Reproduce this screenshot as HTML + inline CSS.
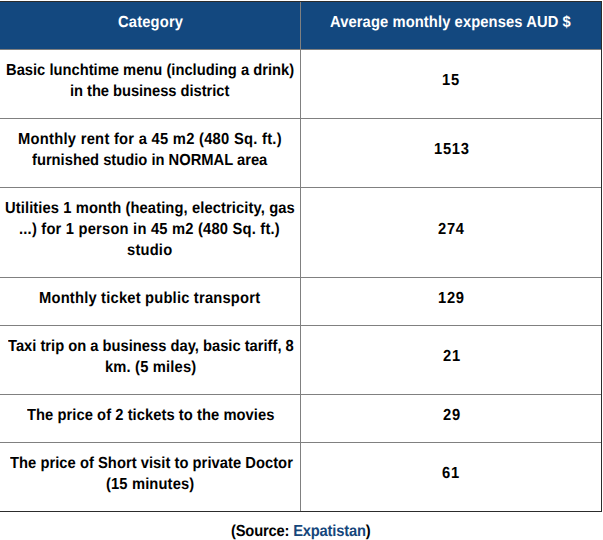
<!DOCTYPE html>
<html><head><meta charset="utf-8"><style>
html,body{margin:0;padding:0;background:#fff;width:603px;height:540px;overflow:hidden;position:relative}
.h{position:absolute}
.t{position:absolute;white-space:nowrap;font-family:"Liberation Sans",sans-serif;font-weight:bold;line-height:20px;transform:scale(0.92,1.0);transform-origin:0 15.2px;text-rendering:geometricPrecision;}
</style></head><body>
<div class="h" style="left:0;top:1px;width:602px;height:1px;background:#2c2c2c"></div>
<div class="h" style="left:0;top:2px;width:601px;height:47px;background:#13487f"></div>
<div class="h" style="left:0;top:49px;width:601px;height:1px;background:#808080"></div>
<div class="h" style="left:0;top:118px;width:601px;height:1px;background:#808080"></div>
<div class="h" style="left:0;top:187px;width:601px;height:1px;background:#808080"></div>
<div class="h" style="left:0;top:277px;width:601px;height:1px;background:#808080"></div>
<div class="h" style="left:0;top:325px;width:601px;height:1px;background:#808080"></div>
<div class="h" style="left:0;top:394px;width:601px;height:1px;background:#808080"></div>
<div class="h" style="left:0;top:442px;width:601px;height:1px;background:#808080"></div>
<div class="h" style="left:300px;top:2px;width:1px;height:509px;background:#808080"></div>
<div class="h" style="left:601px;top:1px;width:1px;height:511px;background:#2c2c2c"></div>
<div class="h" style="left:0;top:511px;width:602px;height:1px;background:#2c2c2c"></div>
<div class="t" id="t0" style="left:118.0px;top:12.8px;color:#fff;letter-spacing:0.186px;font-size:16.0px">Category</div>
<div class="t" id="t1" style="left:330.0px;top:13.0px;color:#fff;letter-spacing:0.112px;font-size:16.0px">Average monthly expenses AUD $</div>
<div class="t" id="t2" style="left:5.5px;top:61.0px;color:#000;letter-spacing:0.005px;font-size:16.0px">Basic lunchtime menu (including a drink)</div>
<div class="t" id="t3" style="left:70.0px;top:82.0px;color:#000;letter-spacing:-0.047px;font-size:16.0px">in the business district</div>
<div class="t" id="t4" style="left:441.8px;top:71.0px;color:#000;letter-spacing:0.778px;font-size:16.0px">15</div>
<div class="t" id="t5" style="left:18.0px;top:130.0px;color:#000;letter-spacing:0.294px;font-size:16.0px">Monthly rent for a 45 m2 (480 Sq. ft.)</div>
<div class="t" id="t6" style="left:32.0px;top:151.0px;color:#000;letter-spacing:0.0px;font-size:16.0px">furnished studio in NORMAL area</div>
<div class="t" id="t7" style="left:433.9px;top:140.0px;color:#000;letter-spacing:0.778px;font-size:16.0px">1513</div>
<div class="t" id="t8" style="left:4.5px;top:199.0px;color:#000;letter-spacing:0.114px;font-size:16.0px">Utilities 1 month (heating, electricity, gas</div>
<div class="t" id="t9" style="left:19.0px;top:220.0px;color:#000;letter-spacing:0.223px;font-size:16.0px">...) for 1 person in 45 m2 (480 Sq. ft.)</div>
<div class="t" id="t10" style="left:127.0px;top:241.0px;color:#000;letter-spacing:0.217px;font-size:16.0px">studio</div>
<div class="t" id="t11" style="left:438.4px;top:220.0px;color:#000;letter-spacing:0.778px;font-size:16.0px">274</div>
<div class="t" id="t12" style="left:39.0px;top:289.0px;color:#000;letter-spacing:0.217px;font-size:16.0px">Monthly ticket public transport</div>
<div class="t" id="t13" style="left:437.7px;top:289.0px;color:#000;letter-spacing:0.778px;font-size:16.0px">129</div>
<div class="t" id="t14" style="left:8.0px;top:337.0px;color:#000;letter-spacing:0.0px;font-size:16.0px">Taxi trip on a business day, basic tariff, 8</div>
<div class="t" id="t15" style="left:105.0px;top:358.0px;color:#000;letter-spacing:0.181px;font-size:16.0px">km. (5 miles)</div>
<div class="t" id="t16" style="left:442.6px;top:347.0px;color:#000;letter-spacing:0.778px;font-size:16.0px">21</div>
<div class="t" id="t17" style="left:27.0px;top:406.0px;color:#000;letter-spacing:0.062px;font-size:16.0px">The price of 2 tickets to the movies</div>
<div class="t" id="t18" style="left:442.6px;top:406.0px;color:#000;letter-spacing:0.778px;font-size:16.0px">29</div>
<div class="t" id="t19" style="left:9.5px;top:454.0px;color:#000;letter-spacing:0.04px;font-size:16.0px">The price of Short visit to private Doctor</div>
<div class="t" id="t20" style="left:106.0px;top:475.0px;color:#000;letter-spacing:0.148px;font-size:16.0px">(15 minutes)</div>
<div class="t" id="t21" style="left:441.6px;top:464.0px;color:#000;letter-spacing:0.778px;font-size:16.0px">61</div>
<div class="t" id="t22" style="left:230.5px;top:522.0px;color:#000;letter-spacing:-0.2px;font-size:16.0px">(Source: <span style="color:#15467b">Expatistan</span>)</div>
</body></html>
